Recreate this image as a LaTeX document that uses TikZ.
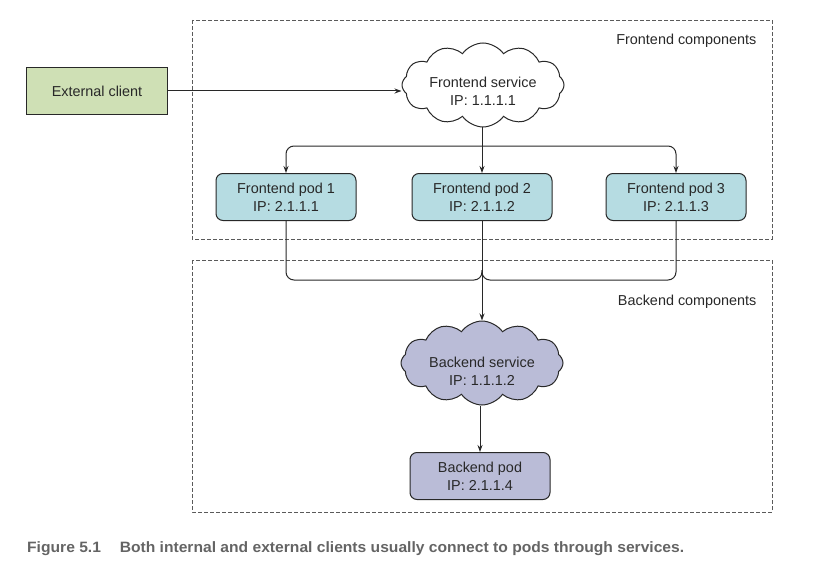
\documentclass[tikz,border=0pt]{standalone}
\usepackage{fontspec}
\usepackage{graphicx}
\setmainfont{Liberation Sans}
\usetikzlibrary{shapes.symbols,arrows.meta}

\definecolor{clientgreen}{RGB}{207,224,181}
\definecolor{podblue}{RGB}{182,220,226}
\definecolor{backlav}{RGB}{186,188,215}
\definecolor{inkgray}{RGB}{40,40,40}
\definecolor{framegray}{RGB}{90,90,90}
\definecolor{captiongray}{RGB}{100,100,100}

\tikzset{
  txt/.style={font=\fontsize{14.4}{18}\selectfont, text=inkgray, align=center},
  clientbox/.style={txt, draw=inkgray, line width=1pt, fill=clientgreen,
    minimum width=141pt, minimum height=47pt},
  podbox/.style={txt, draw=inkgray, line width=1pt, rounded corners=7pt,
    minimum width=140pt, minimum height=47pt},
  svccloud/.style={draw=inkgray, line width=1pt, cloud, cloud puffs=12,
    cloud puff arc=110, aspect=2, minimum width=162pt, minimum height=84pt,
    inner sep=0pt},
  groupframe/.style={draw=framegray, line width=0.9pt, dash pattern=on 4pt off 2pt},
  link/.style={draw=inkgray, line width=1pt},
  linkarrow/.style={link, -{Stealth[length=7pt,width=5pt]}},
}

\begin{document}
\begin{tikzpicture}[x=1pt,y=-1pt]
  \useasboundingbox (0,0) rectangle (828,578);

  % component groups
  \draw[groupframe] (192,20) rectangle (772,239);
  \draw[groupframe] (192,260) rectangle (772,512);
  \node[txt, anchor=east] (fecap) at (760,41) {Frontend components};
  \node[txt, anchor=east] (becap) at (760,302) {Backend components};

  % nodes
  \node[clientbox] (client) at (97,91) {External client};
  \node[svccloud] (fsvc) at (483,85) {};
  \node[txt] (fsvctext) at (483,91) {Frontend service\\IP: 1.1.1.1};
  \node[podbox, fill=podblue] (pod1) at (286,197) {Frontend pod 1\\IP: 2.1.1.1};
  \node[podbox, fill=podblue] (pod2) at (482,197) {Frontend pod 2\\IP: 2.1.1.2};
  \node[podbox, fill=podblue] (pod3) at (676,197) {Frontend pod 3\\IP: 2.1.1.3};
  \node[svccloud, fill=backlav] (bsvc) at (482,363) {};
  \node[txt] (bsvctext) at (482,371) {Backend service\\IP: 1.1.1.2};
  \node[podbox, fill=backlav] (bpod) at (480,476) {Backend pod\\IP: 2.1.1.4};

  % client to frontend service
  \draw[linkarrow] (client.east) -- (client.east -| fsvc.west);

  % frontend service fans out to the pods
  \coordinate (fork) at (482,146);
  \draw[linkarrow] (fsvc.south -| fork) -- (pod2.north);
  \draw[linkarrow, rounded corners=8pt] (fork) -| (pod1.north);
  \draw[linkarrow, rounded corners=8pt] (fork) -| (pod3.north);

  % pods merge into the backend service
  \coordinate (merge) at (482,280);
  \draw[link, rounded corners=8pt] (pod1.south) |- (merge) -- ([yshift=10pt]merge);
  \draw[link, rounded corners=8pt] (pod3.south) |- (merge) -- ([yshift=10pt]merge);
  \draw[linkarrow] (pod2.south) -- (bsvc.north);

  % backend service to backend pod
  \draw[linkarrow] (bsvc.south -| bpod.north) -- (bpod.north);

  % caption
  \node[anchor=west, inner sep=0pt, text=captiongray,
        font=\fontsize{15}{17}\selectfont] (caption) at (27,549)
    {\resizebox{657pt}{\height}{\textbf{Figure 5.1\hspace{1.2em}Both internal and external clients usually connect to pods through services.}}};
\end{tikzpicture}
\end{document}
